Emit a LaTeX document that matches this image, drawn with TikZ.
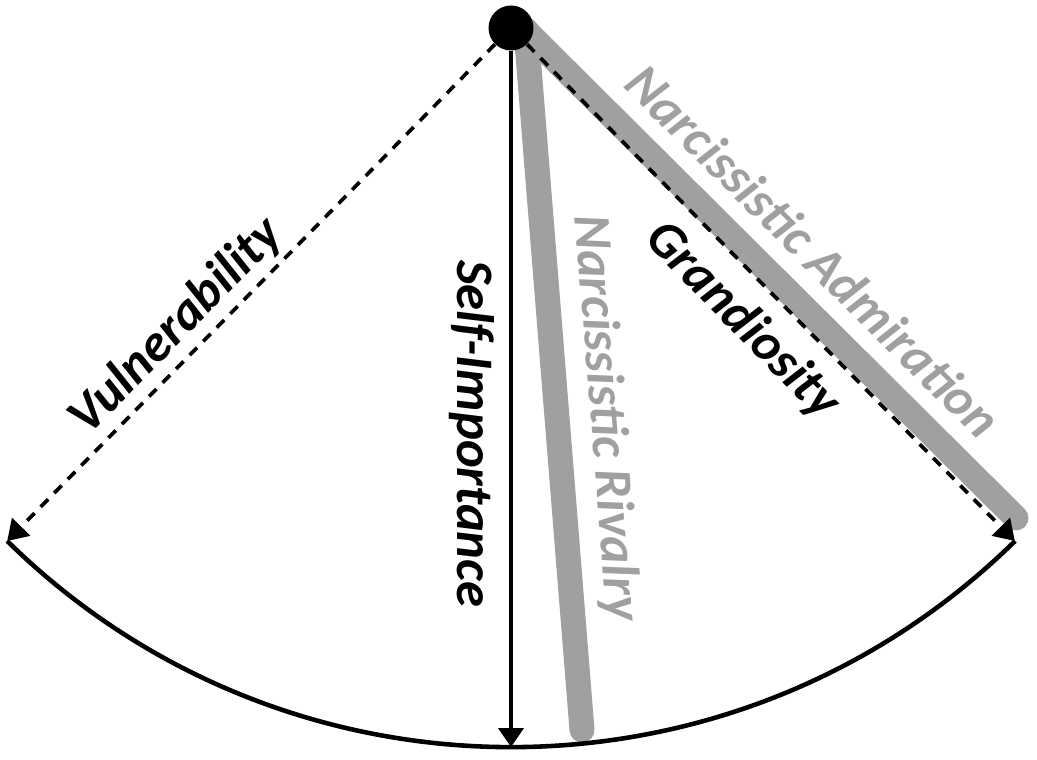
\documentclass[tikz,border=0pt]{standalone}
\usepackage{fontspec}
\setmainfont{Carlito}
\usetikzlibrary{arrows.meta,positioning}
\definecolor{narcgray}{RGB}{160,160,160}

\begin{document}
\begin{tikzpicture}[x=0.02cm,y=0.02cm]
\tikzset{DotStyle/.style   = {shape        = circle,
                              fill         = black,
                              inner sep    = 0pt,
                              minimum size = 0.9cm},
         AxisStyle/.style  = {line width = 2.1pt, dash pattern = on 6pt off 5pt,
                              -{Triangle[length=0.4cm,width=0.5cm]}},
         MainStyle/.style  = {line width = 2.4pt, -{Triangle[length=0.38cm,width=0.5cm]}},
         NarcStyle/.style  = {line width = 0.5cm, line cap = round, draw = narcgray},
         LabelStyle/.style = {font = \fontsize{30}{36}\selectfont\bfseries\itshape, inner sep = 3pt},
         NarcLabel/.style  = {font = \fontsize{30}{36}\selectfont\bfseries\itshape, text = narcgray, inner sep = 3pt}}
     \useasboundingbox (0,0) rectangle (1037,760);
     \coordinate (V) at (7.2,219);
     \coordinate (G) at (1014.8,219);
     \coordinate (S) at (511,13);
     \coordinate (A0) at (515,740);
     \coordinate (A1) at (1016,242);
     \coordinate (R0) at (526,730);
     \coordinate (R1) at (582,30);
     % gray traits
     \draw[NarcStyle](A0) to node[NarcLabel,sloped,above=5.8pt,pos=0.53]{Narcissistic Admiration} (A1);
     \draw[NarcStyle](R0) to node[NarcLabel,sloped,above=4.4pt,pos=0.56]{Narcissistic Rivalry} (R1);
     \node[DotStyle](D) at (511,732){};
     \draw[AxisStyle](D) to node[LabelStyle,sloped,above,pos=0.61]{Vulnerability} (V);
     \draw[AxisStyle](D) to node[LabelStyle,sloped,below=6pt,pos=0.5]{Grandiosity} (G);
     \draw[MainStyle](D) to (S);
     \node[LabelStyle,rotate=-90,anchor=north](SI) at (500.3,326.5){Self-Importance};
     \draw[line width=2.6pt](V) arc[start angle=225.5, end angle=314.5, radius=719];

  \end{tikzpicture}
\end{document}
